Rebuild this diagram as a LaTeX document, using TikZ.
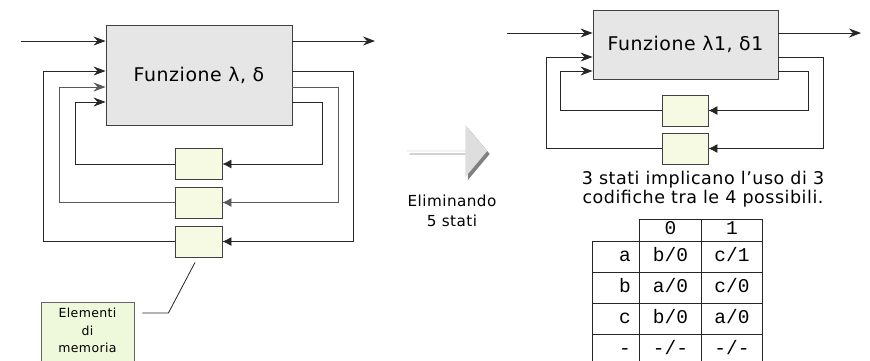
\documentclass[tikz,border=0pt]{standalone}
\usepackage{fontspec}
\setmainfont{DejaVu Sans}[LetterSpace=3]
\setmonofont{Liberation Mono}
\usepackage{tikz}
\usetikzlibrary{arrows.meta, shapes.arrows, shadows, matrix, positioning}
\definecolor{grigio}{HTML}{E6E6E6}
\definecolor{verdino}{HTML}{F6FAE2}
\definecolor{verde}{HTML}{EEF8DA}
\tikzstyle{funzione} = [draw=black!75, fill=grigio, line width=0.9pt, inner sep=0pt]
\tikzstyle{memoria} = [draw=black!75, fill=verdino, line width=0.9pt, minimum width=47pt, minimum height=31pt, inner sep=0pt]
\tikzstyle{etichetta} = [draw=black!60, fill=verde, line width=0.8pt, minimum width=93pt, minimum height=70pt]
\tikzstyle{linea} = [draw=black!85, line width=0.8pt]
\tikzstyle{ingresso} = [linea, -{Stealth[length=12pt, width=9pt, inset=4pt]}]
\tikzstyle{ritorno} = [linea, -{Latex[length=9pt, width=9pt]}]

\begin{document}
\begin{tikzpicture}[x=1pt, y=-1pt]
	\useasboundingbox (0,0) rectangle (870,360);
	\clip (0,0) rectangle (870,360);
	% rete con 8 stati
	\node[funzione, minimum width=186pt, minimum height=100pt, font=\fontsize{18.9}{22}\selectfont] (fz) at (199,75) {Funzione λ, δ};
	\node[memoria] (mem1) at (198.5,164) {};
	\node[memoria] (mem2) at (198.5,202.5) {};
	\node[memoria] (mem3) at (198.5,241.5) {};
	\coordinate (ing) at (21,41);
	\coordinate (usc) at (375,41);
	\draw[ingresso] (ing) -- (ing -| fz.west);
	\draw[ingresso] (fz.east |- usc) -- (usc);
	\draw[ritorno] ([yshift=-27pt]fz.east) -- ++(30,0) |- (mem1.east);
	\draw[ritorno, draw=black!65] ([yshift=-12pt]fz.east) -- ++(46,0) |- (mem2.east);
	\draw[ritorno] ([yshift=4pt]fz.east) -- ++(61,0) |- (mem3.east);
	\draw[ingresso] (mem1.west) -- ++(-99,0) |- ([yshift=-27pt]fz.west);
	\draw[ingresso, draw=black!65] (mem2.west) -- ++(-115,0) |- ([yshift=-12pt]fz.west);
	\draw[ingresso] (mem3.west) -- ++(-131,0) |- ([yshift=4pt]fz.west);
	\node[etichetta, anchor=north] (el) at (87.5,302) {};
	\node[anchor=north, align=center, inner sep=0pt, font=\fontsize{12.5}{17.5}\selectfont] (elt) at ([yshift=-6pt]el.north) {Elementi\\di\\memoria};
	\draw[linea] ([xshift=8pt, yshift=-11pt]el.north east) -- ++(26,0) -- ([xshift=-3.5pt, yshift=-5pt]mem3.south);
	% passaggio
	\node[single arrow, fill=black!13, minimum height=80pt, minimum width=52pt, single arrow head extend=11.5pt, single arrow tip angle=100, inner sep=0pt, drop shadow={shadow xshift=2.5pt, shadow yshift=-3pt, fill=black!50, opacity=1}] (freccia) at (447,151) {};
	\node[align=center, font=\fontsize{15.2}{20}\selectfont] (elim) at (452,211) {Eliminando\\5 stati};
	% rete con 3 stati
	\node[funzione, minimum width=185pt, minimum height=69pt, font=\fontsize{18.9}{22}\selectfont] (fr) at (685.5,44.5) {Funzione λ1, δ1};
	\node[memoria, minimum width=46pt] (rid1) at (685,110.5) {};
	\node[memoria, minimum width=46pt] (rid2) at (685,148.5) {};
	\coordinate (ing2) at (507,33);
	\coordinate (usc2) at (861,33);
	\draw[ingresso] (ing2) -- (ing2 -| fr.west);
	\draw[ingresso] (fr.east |- usc2) -- (usc2);
	\draw[ritorno] ([yshift=-26.5pt]fr.east) -- ++(30,0) |- (rid1.east);
	\draw[ritorno] ([yshift=-12.5pt]fr.east) -- ++(45,0) |- (rid2.east);
	\draw[ingresso] (rid1.west) -- ++(-101,0) |- ([yshift=-26.5pt]fr.west);
	\draw[ingresso] (rid2.west) -- ++(-115,0) |- ([yshift=-12.5pt]fr.west);
	\node[align=center, font=\fontsize{17.5}{19}\selectfont] (nota) at (703,189) {3 stati implicano l’uso di 3\\codifiche tra le 4 possibili.};
	\matrix[matrix of nodes, anchor=north west, inner sep=0pt, outer sep=0pt, column sep=-0.8pt, row sep=-0.8pt,
		nodes={draw=black!85, line width=0.8pt, inner ysep=0pt, text height=12pt, text depth=3pt, minimum height=31pt, font=\ttfamily\fontsize{19.5}{19.5}\selectfont},
		column 1/.style={nodes={minimum width=47pt, text width=30pt, align=right}},
		column 2/.style={nodes={minimum width=62pt}},
		column 3/.style={nodes={minimum width=61pt}},
		row 1/.style={nodes={minimum height=22pt}}] (tab) at (592,219) {
			& 0 & 1 \\
		a & b/0 & c/1 \\
		b & a/0 & c/0 \\
		c & b/0 & a/0 \\
		- & -/- & -/- \\
	};
\end{tikzpicture}
\end{document}
